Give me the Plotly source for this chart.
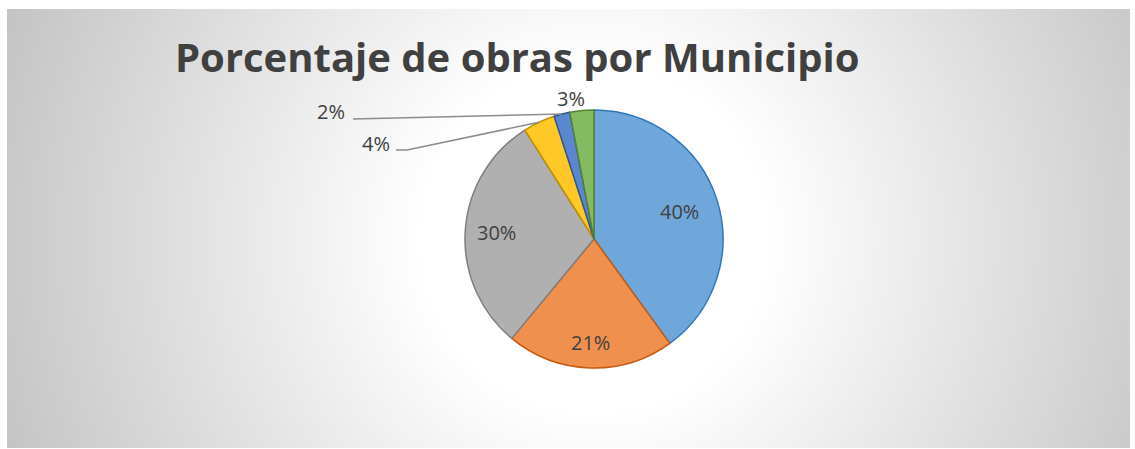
import base64
import math
import plotly.graph_objects as go

# data
municipios = ['Municipio 1', 'Municipio 2', 'Municipio 3', 'Municipio 4', 'Municipio 5', 'Municipio 6']
porcentajes = [40, 21, 30, 4, 2, 3]
fill_colors = ['#70A7DB', '#F0904F', '#B0B0B0', '#FFC826', '#5B87CF', '#84BA62']
line_colors = ['#2E75B6', '#C55A11', '#7F7F7F', '#BF9000', '#2F5597', '#548235']

W, H = 1135, 449
CX, CY, R = 594, 239, 129   # pie centre / radius in pixels


def px(x):
    return x / W


def py(y):
    return 1 - y / H


def polar(frac, angle_deg):
    a = math.radians(angle_deg)
    return CX + frac * R * math.sin(a), CY - frac * R * math.cos(a)


# background radial gradient as svg image
svg = f'''<svg xmlns="http://www.w3.org/2000/svg" width="1123" height="439" viewBox="0 0 1123 439">
<defs><radialGradient id="g" gradientUnits="userSpaceOnUse" cx="{CX-7}" cy="{CY-9}" r="640">
<stop offset="0.27" stop-color="#ffffff"/><stop offset="1" stop-color="#c2c2c2"/></radialGradient></defs>
<rect width="1123" height="439" fill="url(#g)"/></svg>'''
bg_src = 'data:image/svg+xml;base64,' + base64.b64encode(svg.encode()).decode()

fig = go.Figure(go.Pie(
    labels=municipios,
    values=porcentajes,
    sort=False,
    direction='clockwise',
    rotation=0,
    textinfo='none',
    marker=dict(colors=fill_colors, line=dict(color=line_colors, width=1.5)),
    domain=dict(x=[px(CX - R), px(CX + R)], y=[py(CY + R), py(CY - R)]),
    showlegend=False,
))

total = sum(porcentajes)
mids = []
cum = 0
for v in porcentajes:
    mids.append((cum + v / 2) / total * 360)
    cum += v

annotations = []
shapes = []
label_font = dict(family='Open Sans, sans-serif', size=20, color='#404040')


def label(x, y, text, font):
    return dict(x=px(x), y=py(y), xref='paper', yref='paper', text=text,
                showarrow=False, font=font, xanchor='center', yanchor='middle')


# inside labels (radius fraction per slice)
inside_r = [0.70, 0.80, 0.76]
for i, fr in enumerate(inside_r):
    x, y = polar(fr, mids[i])
    annotations.append(label(x, y, f'{porcentajes[i]}%', label_font))

# outside labels: text position (px) and leader-line start points
outside = {
    3: dict(text_at=(376, 143), line=[(396, 150), (407, 150)]),
    4: dict(text_at=(331, 111), line=[(353, 119)]),
    5: dict(text_at=(571, 98), line=None),
}
for i, cfg in outside.items():
    tx, ty = cfg['text_at']
    annotations.append(label(tx, ty, f'{porcentajes[i]}%', label_font))
    if cfg['line']:
        ex, ey = polar(1.0, mids[i])
        pts = cfg['line'] + [(ex, ey)]
        path = 'M ' + ' L '.join(f'{px(a):.5f},{py(b):.5f}' for a, b in pts)
        shapes.append(dict(type='path', path=path, xref='paper', yref='paper',
                           line=dict(color='#8C8C8C', width=1.5)))

annotations.append(label(517, 57, '<b>Porcentaje de obras por Municipio</b>',
                         dict(family='Open Sans, sans-serif', size=40, color='#404040')))

fig.update_layout(
    width=W, height=H,
    margin=dict(t=0, b=0, l=0, r=0),
    paper_bgcolor='white',
    plot_bgcolor='white',
    images=[dict(source=bg_src, xref='paper', yref='paper',
                 x=px(7), y=py(9), sizex=1123 / W, sizey=439 / H,
                 xanchor='left', yanchor='top', sizing='stretch', layer='below')],
    annotations=annotations,
    shapes=shapes,
)

fig.write_html("out.html", config={'displayModeBar': False},
               post_script="document.body.style.margin='0px';")
